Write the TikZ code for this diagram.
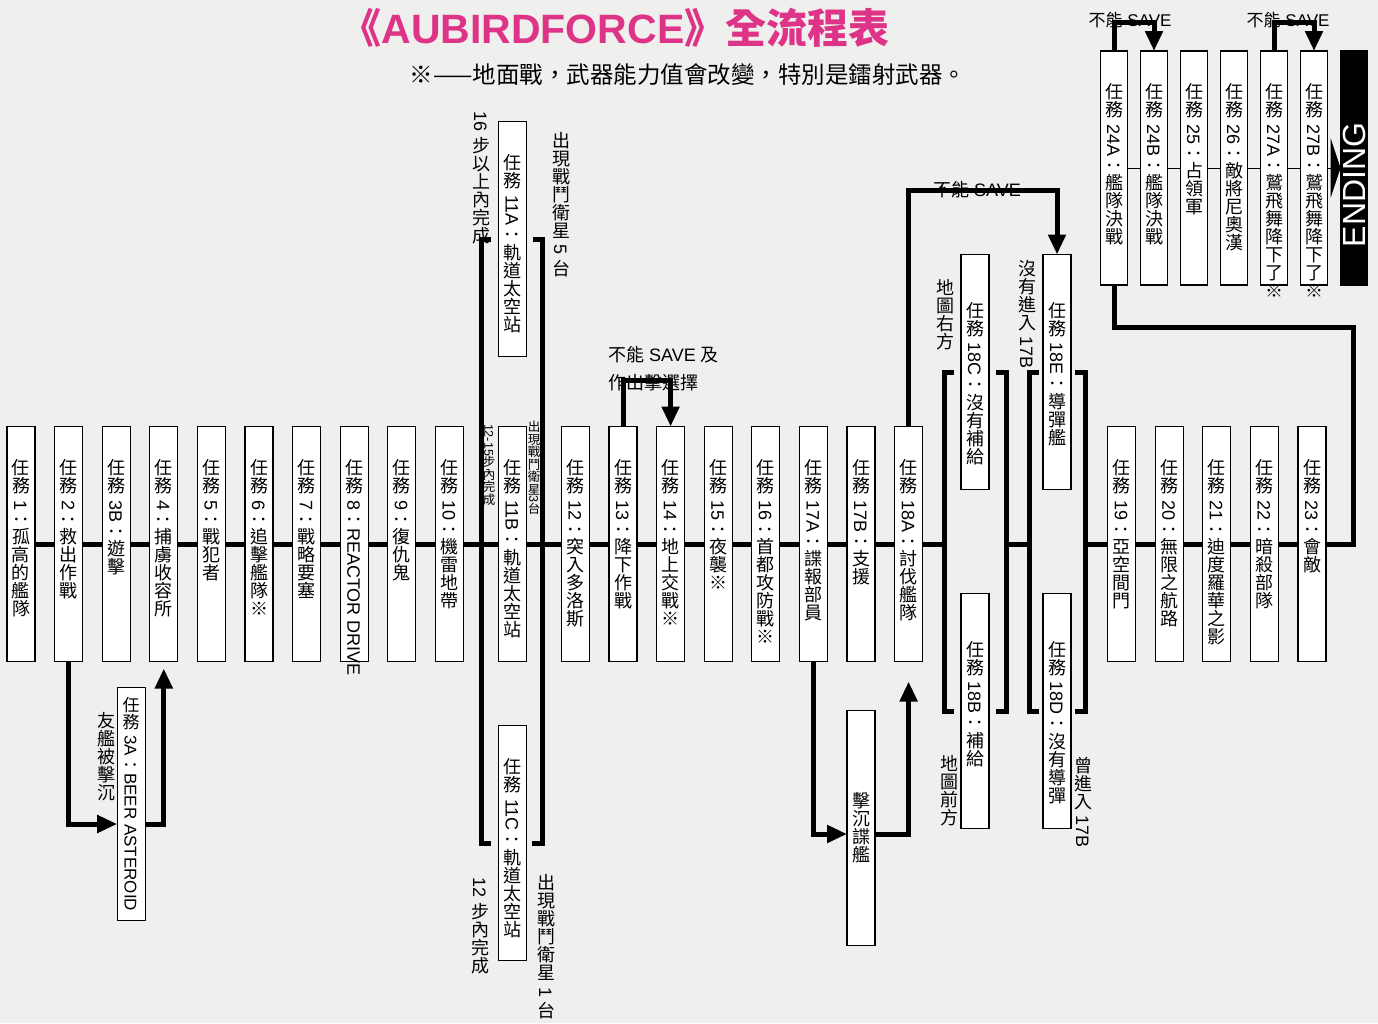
\documentclass[tikz,border=0pt]{standalone}
\usepackage{fontspec}
\usepackage{graphicx}
\setmainfont{Liberation Sans}
\newfontfamily\cjk{Noto Sans CJK TC}
\usetikzlibrary{arrows.meta,positioning}
\definecolor{paper}{RGB}{239,239,237}
\definecolor{titlepink}{RGB}{222,52,136}
% upright CJK glyphs inside text that is turned by -90
\ExplSyntaxOn
\NewDocumentCommand{\cj}{m}{\tl_map_inline:nn{#1}{\rotatebox[origin=c]{90}{\cjk\rule[-.12em]{0pt}{1em}##1}}}
\ExplSyntaxOff
\newcommand{\vt}[1]{\rotatebox{-90}{#1}}
\newcommand{\vtl}[2][170pt]{\rotatebox{-90}{\makebox[#1][l]{#2}}}
\newcommand{\mtask}[3][170pt]{\vtl[#1]{\cj{任務} #2{\cjk ：}#3}}

\begin{document}
\begin{tikzpicture}[
  x=1pt, y=-1pt,
  node distance=19.6pt,
  mission/.style={draw, line width=1.3pt, fill=white, inner sep=0pt, outer sep=0pt, minimum width=28pt, minimum height=235pt, font=\fontsize{18pt}{20pt}\selectfont},
  topbox/.style={mission, minimum width=27pt, minimum height=234pt},
  note/.style={inner sep=0pt, font=\fontsize{18pt}{28pt}\selectfont},
  small/.style={inner sep=0pt, font=\fontsize{12.5pt}{15pt}\selectfont},
  link/.style={line width=5pt},
  thinlink/.style={line width=1pt},
  arrow/.style={line width=5pt, -{Triangle[length=20pt,width=17pt]}}
]
\fill[paper] (0,0) rectangle (1378,1023);
\useasboundingbox (0,0) rectangle (1378,1023);

% title
\node[text=titlepink, font=\fontsize{41pt}{41pt}\selectfont\bfseries] (title) at (615,28) {{\cjk 《}AUBIRDFORCE{\cjk 》全流程表}};
\node[font=\fontsize{23.5pt}{24pt}\selectfont] (subtitle) at (688,75) {\cjk ※——地面戰，武器能力值會改變，特別是鐳射武器。};

% main row
\node[mission] (m1) at (21,544) {\mtask{1}{\cj{孤高的艦隊}}};
\node[mission, right=of m1] (m2) {\mtask{2}{\cj{救出作戰}}};
\node[mission, right=of m2] (m3B) {\mtask{3B}{\cj{遊擊}}};
\node[mission, right=of m3B] (m4) {\mtask{4}{\cj{捕虜收容所}}};
\node[mission, right=of m4] (m5) {\mtask{5}{\cj{戰犯者}}};
\node[mission, right=of m5] (m6) {\mtask{6}{\cj{追擊艦隊※}}};
\node[mission, right=of m6] (m7) {\mtask{7}{\cj{戰略要塞}}};
\node[mission, right=of m7] (m8) {\mtask{8}{REACTOR DRIVE}};
\node[mission, right=of m8] (m9) {\mtask{9}{\cj{復仇鬼}}};
\node[mission, right=of m9] (m10) {\mtask{10}{\cj{機雷地帶}}};
\node[mission, right=35pt of m10] (m11B) {\mtask{11B}{\cj{軌道太空站}}};
\node[mission, right=35pt of m11B] (m12) {\mtask{12}{\cj{突入多洛斯}}};
\node[mission, right=of m12] (m13) {\mtask{13}{\cj{降下作戰}}};
\node[mission, right=of m13] (m14) {\mtask{14}{\cj{地上交戰※}}};
\node[mission, right=of m14] (m15) {\mtask{15}{\cj{夜襲※}}};
\node[mission, right=of m15] (m16) {\mtask{16}{\cj{首都攻防戰※}}};
\node[mission, right=of m16] (m17A) {\mtask{17A}{\cj{諜報部員}}};
\node[mission, right=of m17A] (m17B) {\mtask{17B}{\cj{支援}}};
\node[mission, right=of m17B] (m18A) {\mtask{18A}{\cj{討伐艦隊}}};
\node[mission, right=185pt of m18A] (m19) {\mtask{19}{\cj{亞空間門}}};
\node[mission, right=of m19] (m20) {\mtask{20}{\cj{無限之航路}}};
\node[mission, right=of m20] (m21) {\mtask{21}{\cj{迪度羅華之影}}};
\node[mission, right=of m21] (m22) {\mtask{22}{\cj{暗殺部隊}}};
\node[mission, right=of m22] (m23) {\mtask{23}{\cj{會敵}}};

% branches
\node[mission, below=26pt of m3B, xshift=15pt, minimum height=233pt, font=\fontsize{17pt}{19pt}\selectfont] (m3A) {\vt{\cj{任務} 3A{\cjk ：}BEER ASTEROID}};
\node[mission, above=70pt of m11B] (m11A) {\mtask{11A}{\cj{軌道太空站}}};
\node[mission, below=64pt of m11B] (m11C) {\mtask{11C}{\cj{軌道太空站}}};
\node[mission, below=49pt of m17B] (sink) {\vt{\cj{擊沉諜艦}}};
\node[mission] (m18C) at (975,372) {\mtask[141pt]{18C}{\cj{沒有補給}}};
\node[mission, below=104pt of m18C] (m18B) {\mtask[141pt]{18B}{\cj{補給}}};
\node[mission, right=54pt of m18C] (m18E) {\mtask[141pt]{18E}{\cj{導彈艦}}};
\node[mission, below=104pt of m18E] (m18D) {\mtask[141pt]{18D}{\cj{沒有導彈}}};

% last row
\node[topbox] (m24A) at (1114,168) {\mtask{24A}{\cj{艦隊決戰}}};
\node[topbox, right=13pt of m24A] (m24B) {\mtask{24B}{\cj{艦隊決戰}}};
\node[topbox, right=13pt of m24B] (m25) {\mtask{25}{\cj{占領軍}}};
\node[topbox, right=13pt of m25] (m26) {\mtask{26}{\cj{敵將尼奧漢}}};
\node[topbox, right=13pt of m26] (m27A) {\mtask{27A}{\cj{鷲飛舞降下了※}}};
\node[topbox, right=13pt of m27A] (m27B) {\mtask{27B}{\cj{鷲飛舞降下了※}}};
\node[topbox, right=13pt of m27B, fill=black, text=white] (ending) {\rotatebox{90}{\makebox[158pt][l]{\fontsize{32pt}{32pt}\selectfont ENDING}}};

% notes
\node[note] (lab16) at (481,178) {\vt{16 \cj{步以上內完成}}};
\node[note] (labsat5) at (561,205) {\vt{\cj{出現戰鬥衛星} 5 \cj{台}}};
\node[small] (lab1215) at (489,465) {\vt{12-15\cj{步內完成}}};
\node[small] (labsat3) at (534,468) {\vt{\cj{出現戰鬥衛星}3\cj{台}}};
\node[note] (lab12) at (480,926) {\vt{12 \cj{步內完成}}};
\node[note] (labsat1) at (546,947) {\vt{\cj{出現戰鬥衛星} 1 \cj{台}}};
\node[note] (labsunk) at (106,757) {\vt{\cj{友艦被擊沉}}};
\node[note] (labright) at (945,315) {\vt{\cj{地圖右方}}};
\node[note] (labno17) at (1027,314) {\vt{\cj{沒有進入} 17B}};
\node[note] (labfront) at (949,791) {\vt{\cj{地圖前方}}};
\node[note] (labwas17) at (1083,802) {\vt{\cj{曾進入} 17B}};
\node[note, anchor=west, align=left] (nosave14) at (608,369) {{\cjk 不能} SAVE {\cjk 及}\\{\cjk 作出擊選擇}};
\node[note] (nosave18) at (977,190) {{\cjk 不能} SAVE};
\node[note, font=\fontsize{17pt}{20pt}\selectfont] (nosave24) at (1130,20) {{\cjk 不能} SAVE};
\node[note, font=\fontsize{17pt}{20pt}\selectfont] (nosave27) at (1288,20) {{\cjk 不能} SAVE};

% main line
\draw[link] (m1) -- (m2) -- (m3B) -- (m4) -- (m5) -- (m6) -- (m7) -- (m8) -- (m9) -- (m10) -- (m11B) -- (m12) -- (m13) -- (m14) -- (m15) -- (m16) -- (m17A) -- (m17B) -- (m18A);
\draw[link] (m19) -- (m20) -- (m21) -- (m22) -- (m23);
\draw[link] (m23.east) -- ++(27,0) |- ([yshift=-42pt]m24A.south) -- (m24A.south);
\draw[thinlink] (m24A) -- (m24B) -- (m25) -- (m26) -- (m27A) -- (m27B);
\draw[thinlink, -{Triangle[length=10pt,width=60pt]}] (m27B) -- (ending);

% brackets
\draw[link] ([xshift=-7pt]m11A.west) -| ([xshift=-17pt]m11C.west) -- ([xshift=-7pt]m11C.west);
\draw[link] ([xshift=7pt]m11A.east) -| ([xshift=16pt]m11C.east) -- ([xshift=6pt]m11C.east);
\draw[link] ([xshift=-7pt]m18C.west) -| ([xshift=-17pt]m18B.west) -- ([xshift=-7pt]m18B.west);
\draw[link] ([xshift=7pt]m18C.east) -| ([xshift=17pt]m18B.east) -- ([xshift=7pt]m18B.east);
\draw[link] ([xshift=-4pt]m18E.west) -| ([xshift=-14pt]m18D.west) -- ([xshift=-4pt]m18D.west);
\draw[link] ([xshift=4pt]m18E.east) -| ([xshift=14pt]m18D.east) -- ([xshift=4pt]m18D.east);
\draw[link] (m18A) -- ([xshift=-17pt]m18C.west |- m18A);
\draw[link] ([xshift=17pt]m18C.east |- m18A) -- ([xshift=-14pt]m18E.west |- m18A);
\draw[link] ([xshift=14pt]m18E.east |- m18A) -- (m19);

% side routes
\draw[arrow] (m2.south) |- ([yshift=-20pt]m3A.west);
\draw[arrow, shorten >=7pt] ([yshift=-20pt]m3A.east) -| (m4.south);
\draw[arrow] (m13.north) |- ([yshift=46pt]m14.north) -- (m14.north);
\draw[arrow] (m17A.south) |- ([yshift=-6pt]sink.west);
\draw[arrow, shorten >=20pt] ([yshift=-6pt]sink.east) -| (m18A.south);
\draw[arrow] (m18A.north) |- ([yshift=64pt]m18E.north) -- (m18E.north);
\draw[arrow] (m24A.north) |- ([yshift=29pt]m24B.north) -- (m24B.north);
\draw[arrow] (m27A.north) |- ([yshift=29pt]m27B.north) -- (m27B.north);
\end{tikzpicture}
\end{document}
